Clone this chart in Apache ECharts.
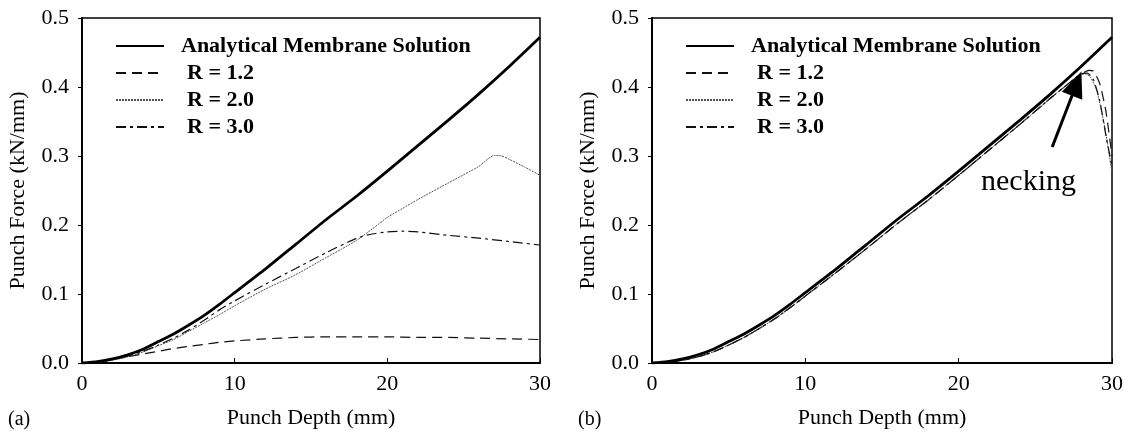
<!DOCTYPE html>
<html>
<head>
<meta charset="utf-8">
<script src="https://cdn.jsdelivr.net/npm/echarts@6/dist/echarts.min.js"></script>
<style>
  html, body { margin: 0; padding: 0; background: #fff; }
  #chart { width: 1129px; height: 434px; }
</style>
</head>
<body>
<div id="chart"></div>
<script>
'use strict';

// ---- data ----
var names = ['Analytical Membrane Solution', 'R = 1.2', 'R = 2.0', 'R = 3.0'];
var xTicks = [0, 10, 20, 30];
var yTicks = [0.0, 0.1, 0.2, 0.3, 0.4, 0.5];

// analytical membrane solution (same in both panels)
var anaX = [0, 1, 2, 3, 4, 5, 6, 7, 8, 9, 10, 12, 14, 16, 18, 20, 22, 24, 26, 28, 30];
var anaY = [0, 0.002, 0.006, 0.012, 0.02, 0.031, 0.042, 0.055, 0.069, 0.085, 0.102, 0.136, 0.172, 0.208, 0.242, 0.278, 0.315, 0.352, 0.39, 0.43, 0.472];

// panel (a)
var a12X = [0, 1, 2, 3, 4, 5, 6, 7, 8, 9, 10, 12, 14, 16, 18, 20, 22, 24, 26, 28, 30];
var a12Y = [0, 0.002, 0.005, 0.009, 0.013, 0.017, 0.021, 0.024, 0.027, 0.03, 0.032, 0.035, 0.037, 0.038, 0.038, 0.038, 0.037, 0.037, 0.036, 0.035, 0.034];
var a20X = [0, 1, 2, 3, 4, 5, 6, 7, 8, 9, 10, 12, 14, 16, 17, 18, 19, 20, 21, 22, 24, 26, 27, 27.5, 28, 29, 30];
var a20Y = [0, 0.001, 0.004, 0.009, 0.016, 0.025, 0.034, 0.046, 0.058, 0.07, 0.083, 0.107, 0.128, 0.153, 0.165, 0.178, 0.194, 0.211, 0.224, 0.237, 0.261, 0.285, 0.301, 0.3, 0.295, 0.284, 0.272];
var a30X = [0, 1, 2, 3, 4, 5, 6, 7, 8, 9, 10, 12, 14, 16, 18, 19, 20, 21, 22, 24, 26, 28, 30];
var a30Y = [0, 0.001, 0.005, 0.01, 0.017, 0.026, 0.036, 0.048, 0.062, 0.077, 0.09, 0.114, 0.137, 0.16, 0.181, 0.187, 0.19, 0.191, 0.19, 0.185, 0.181, 0.176, 0.171];

// panel (b)
var b12X = [0, 1, 2, 3, 4, 5, 6, 7, 8, 9, 10, 12, 14, 16, 18, 20, 22, 24, 26, 27, 27.5, 28, 28.5, 28.8, 29.2, 29.6, 30];
var b12Y = [0, 0.001, 0.004, 0.009, 0.016, 0.026, 0.037, 0.05, 0.064, 0.08, 0.097, 0.131, 0.166, 0.202, 0.236, 0.272, 0.309, 0.346, 0.384, 0.402, 0.411, 0.419, 0.424, 0.423, 0.405, 0.365, 0.3];
var b20X = [0, 1, 2, 3, 4, 5, 6, 7, 8, 9, 10, 12, 14, 16, 18, 20, 22, 24, 26, 27, 27.5, 28, 28.3, 28.6, 29, 29.5, 30];
var b20Y = [0, 0.001, 0.004, 0.009, 0.016, 0.026, 0.037, 0.05, 0.064, 0.08, 0.097, 0.131, 0.166, 0.202, 0.236, 0.272, 0.309, 0.346, 0.384, 0.402, 0.411, 0.418, 0.419, 0.414, 0.395, 0.345, 0.276];
var b30X = [0, 1, 2, 3, 4, 5, 6, 7, 8, 9, 10, 12, 14, 16, 18, 20, 22, 24, 26, 27, 27.5, 28, 28.4, 28.8, 29.2, 29.6, 30];
var b30Y = [0, 0.001, 0.004, 0.009, 0.016, 0.026, 0.037, 0.05, 0.064, 0.08, 0.097, 0.131, 0.166, 0.202, 0.236, 0.272, 0.309, 0.346, 0.384, 0.402, 0.411, 0.419, 0.42, 0.41, 0.38, 0.33, 0.285];

// necking arrow (tail, tip) in data units of panel (b)
var arrowFrom = [26.1, 0.313];
var arrowTo = [27.7, 0.405];

function zip(xs, ys) {
	var out = [];
	for (var i = 0; i < xs.length; i++) {
		out.push([xs[i], ys[i]]);
	}
	return out;
}

var FONT = '"Liberation Serif", "Times New Roman", serif';

var styles = {
	'Analytical Membrane Solution': { color: '#000', width: 2.8, type: 'solid' },
	'R = 1.2': { color: '#111', width: 1.2, type: [10, 6] },
	'R = 2.0': { color: '#555', width: 1, type: [2, 1] },
	'R = 3.0': { color: '#111', width: 1.2, type: [10, 4, 3, 4] }
};

function curve(name, xs, ys, idx, extra) {
	var s = {
		name: name,
		type: 'line',
		xAxisIndex: idx,
		yAxisIndex: idx,
		data: zip(xs, ys),
		showSymbol: false,
		symbol: 'none',
		smooth: 0.2,
		lineStyle: styles[name],
		itemStyle: { color: styles[name].color },
		z: name === names[0] ? 3 : 2
	};
	if (extra) {
		for (var k in extra) s[k] = extra[k];
	}
	return s;
}

function xAxis(idx) {
	return {
		type: 'value',
		gridIndex: idx,
		min: 0,
		max: 30,
		interval: 10,
		name: 'Punch Depth (mm)',
		nameLocation: 'middle',
		nameGap: 44,
		nameTextStyle: { fontFamily: FONT, fontSize: 22, color: '#000' },
		axisLine: { show: true, onZero: false, lineStyle: { color: '#000', width: 2 } },
		axisTick: { show: true, inside: true, length: 5, lineStyle: { color: '#000', width: 1 } },
		axisLabel: { fontFamily: FONT, fontSize: 22, color: '#000', margin: 10 },
		splitLine: { show: false }
	};
}

function yAxis(idx) {
	return {
		type: 'value',
		gridIndex: idx,
		min: 0,
		max: 0.5,
		interval: 0.1,
		name: 'Punch Force (kN/mm)',
		nameLocation: 'middle',
		nameGap: 53,
		nameTextStyle: { fontFamily: FONT, fontSize: 22, color: '#000' },
		axisLine: { show: true, onZero: false, lineStyle: { color: '#000', width: 2 } },
		axisTick: { show: true, inside: false, length: 4, lineStyle: { color: '#000', width: 1 } },
		axisLabel: {
			fontFamily: FONT, fontSize: 22, color: '#000', margin: 13,
			formatter: function (v) { return v.toFixed(1); }
		},
		splitLine: { show: false }
	};
}

function legend(left) {
	var items = [];
	for (var i = 0; i < names.length; i++) {
		items.push({
			name: names[i],
			textStyle: { padding: [0, 0, 0, i === 0 ? 12 : 18] }
		});
	}
	return {
		data: items,
		orient: 'vertical',
		left: left,
		top: 35,
		padding: 0,
		itemWidth: 48,
		itemHeight: 12,
		itemGap: 5,
		selectedMode: false,
		itemStyle: { opacity: 0 },
		textStyle: { fontFamily: FONT, fontSize: 22, fontWeight: 'bold', color: '#000', lineHeight: 22 }
	};
}

var option = {
	animation: false,
	backgroundColor: '#fff',
	grid: [
		{ left: 82, right: 589, top: 18, bottom: 69, show: true, borderColor: '#000', borderWidth: 1.5 },
		{ left: 652, right: 17, top: 18, bottom: 69, show: true, borderColor: '#000', borderWidth: 1.5 }
	],
	xAxis: [xAxis(0), xAxis(1)],
	yAxis: [yAxis(0), yAxis(1)],
	legend: [legend(115), legend(685)],
	graphic: [
		{ type: 'text', left: 8, top: 410, style: { text: '(a)', font: '20px ' + FONT, fill: '#000' } },
		{ type: 'text', left: 578, top: 410, style: { text: '(b)', font: '20px ' + FONT, fill: '#000' } },
		{ type: 'text', left: 981, top: 167, style: { text: 'necking', font: '30px ' + FONT, fill: '#000' } }
	],
	series: [
		curve(names[0], anaX, anaY, 0),
		curve(names[1], a12X, a12Y, 0),
		curve(names[2], a20X, a20Y, 0),
		curve(names[3], a30X, a30Y, 0),
		curve(names[0], anaX, anaY, 1, {
			markLine: {
				silent: true,
				symbol: ['none', 'triangle'],
				symbolSize: [22, 26],
				label: { show: false },
				lineStyle: { color: '#000', width: 3, type: 'solid' },
				itemStyle: { color: '#000' },
				data: [[{ coord: arrowFrom }, { coord: arrowTo }]]
			}
		}),
		curve(names[1], b12X, b12Y, 1),
		curve(names[2], b20X, b20Y, 1),
		curve(names[3], b30X, b30Y, 1)
	]
};

var chart = echarts.init(document.getElementById('chart'));
chart.setOption(option);
</script>
</body>
</html>
